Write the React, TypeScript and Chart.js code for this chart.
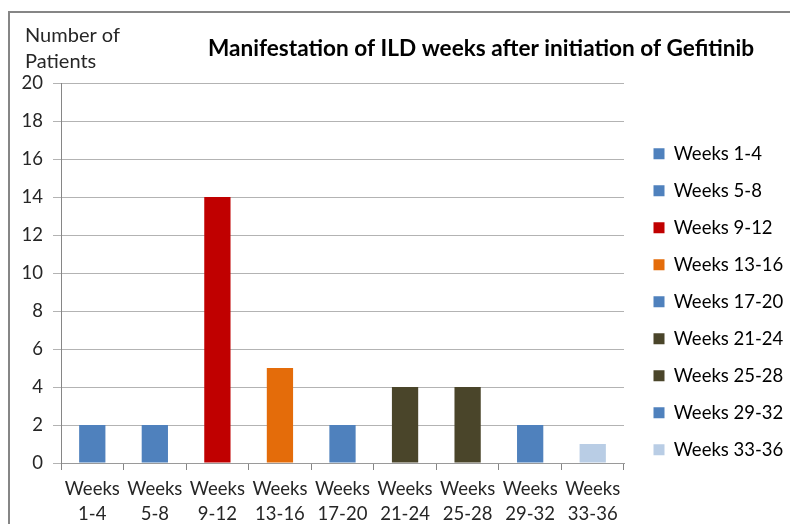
import React, { useEffect, useRef } from 'react';
import { Chart, registerables } from 'chart.js';

Chart.register(...registerables);

// ---- data ----
const categories = [
  'Weeks 1-4',
  'Weeks 5-8',
  'Weeks 9-12',
  'Weeks 13-16',
  'Weeks 17-20',
  'Weeks 21-24',
  'Weeks 25-28',
  'Weeks 29-32',
  'Weeks 33-36',
];
const patientCounts = [2, 2, 14, 5, 2, 4, 4, 2, 1];
const barColors = [
  '#4F81BD',
  '#4F81BD',
  '#C00000',
  '#E46C0A',
  '#4F81BD',
  '#4A452A',
  '#4A452A',
  '#4F81BD',
  '#B9CDE5',
];
const yMin = 0;
const yMax = 20;
const yStep = 2;
const chartTitle = 'Manifestation of ILD weeks after initiation of Gefitinib';
const yAxisTitle = ['Number of', 'Patients'];

const FONT = 'Lato, Carlito, Calibri, "Noto Sans", sans-serif';
const TEXT = '#262626';
const TARGET_RIGHT = 616;
const FS = 18.5;

const decorPlugin = {
  id: 'decor',
  afterLayout(chart: any) {
    const lg = chart.legend;
    if (!lg) return;
    const w = lg.width;
    lg.left = chart.chartArea.right + 11;
    lg.right = lg.left + w + 30;
    lg.width = w + 30;
    lg.top = 118;
    lg.height = lg.bottom - lg.top;
  },
  beforeDraw(chart: any) {
    const ctx = chart.ctx;
    ctx.save();
    ctx.strokeStyle = '#868686';
    ctx.lineWidth = 2;
    ctx.beginPath();
    ctx.moveTo(1, chart.height + 5);
    ctx.lineTo(1, 4);
    ctx.lineTo(chart.width + 5, 4);
    ctx.stroke();
    ctx.restore();
  },
  afterDraw(chart: any) {
    const ctx = chart.ctx;
    ctx.save();
    ctx.fillStyle = '#000';
    ctx.textBaseline = 'alphabetic';
    ctx.textAlign = 'left';
    ctx.font = `bold 22.6px ${FONT}`;
    ctx.fillText(chartTitle, 200, 48);
    ctx.fillStyle = TEXT;
    ctx.font = `20px ${FONT}`;
    ctx.fillText(yAxisTitle[0], 17, 34);
    ctx.fillText(yAxisTitle[1], 17, 60);
    ctx.restore();
  },
};

export default function App() {
  const ref = useRef<HTMLCanvasElement | null>(null);
  useEffect(() => {
    if (!ref.current) return;
    const chart = new Chart(ref.current, {
      type: 'bar',
      data: {
        labels: categories,
        datasets: [
          {
            label: 'Number of Patients',
            data: patientCounts,
            backgroundColor: barColors,
            borderWidth: 0,
            categoryPercentage: 1,
            barPercentage: 0.42,
          },
        ],
      },
      plugins: [decorPlugin],
      options: {
        animation: false,
        responsive: true,
        maintainAspectRatio: false,
        layout: { padding: { top: 75, left: 0, right: 20, bottom: 0 } },
        plugins: {
          title: { display: false },
          tooltip: { enabled: false },
          legend: {
            display: true,
            position: 'right',
            align: 'start',
            labels: {
              boxWidth: 11,
              boxHeight: 11,
              padding: 18.5,
              color: TEXT,
              font: { family: FONT, size: FS },
              generateLabels: (c: any) =>
                c.data.labels.map((l: string, i: number) => ({
                  text: l,
                  fillStyle: barColors[i],
                  strokeStyle: barColors[i],
                  lineWidth: 0,
                  hidden: false,
                  index: i,
                  datasetIndex: 0,
                })),
            },
          },
        },
        scales: {
          x: {
            offset: true,
            afterFit: (s: any) => {
              s.height = 61;
            },
            grid: {
              display: true,
              offset: true,
              drawOnChartArea: false,
              drawTicks: true,
              tickLength: 7,
              color: '#868686',
            },
            border: { display: true, color: '#9a9a9a', width: 1 },
            ticks: {
              padding: 7,
              color: TEXT,
              font: { family: FONT, size: FS, lineHeight: 25 / FS },
              maxRotation: 0,
              autoSkip: false,
              callback: function (this: any, v: any) {
                return String(this.getLabelForValue(v)).split(' ');
              },
            },
          },
          y: {
            min: yMin,
            max: yMax,
            afterFit: (s: any) => {
              s.width = 53;
            },
            grid: {
              color: '#b3b3b3',
              tickLength: 8,
              drawTicks: true,
            },
            border: { display: true, color: '#868686', width: 1 },
            ticks: {
              stepSize: yStep,
              padding: 10,
              color: TEXT,
              font: { family: FONT, size: FS },
            },
          },
        },
      },
    });
    const diff = chart.chartArea.right - TARGET_RIGHT;
    if (Math.abs(diff) > 0.5) {
      (chart.options.layout as any).padding.right = 20 + diff;
      chart.update();
    }
    return () => chart.destroy();
  }, []);
  return (
    <div style={{ position: 'absolute', left: 8, top: 8, width: 782, height: 516 }}>
      <canvas ref={ref} />
    </div>
  );
}
